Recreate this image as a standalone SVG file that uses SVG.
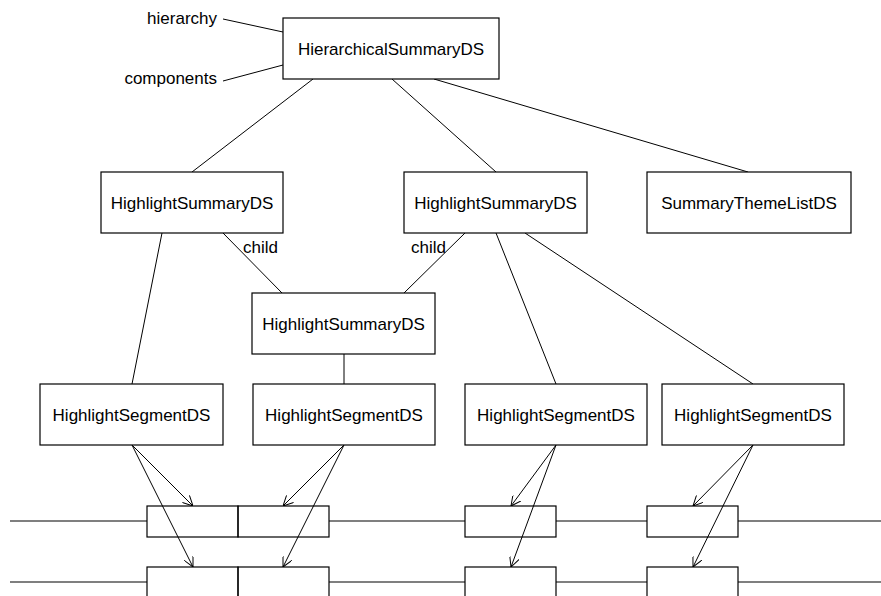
<svg xmlns="http://www.w3.org/2000/svg" width="881" height="596" viewBox="0 0 881 596">
  <style>
    .box { fill: #fff; stroke: #000; stroke-width: 1.2; }
    .slot { fill: none; stroke: #000; stroke-width: 1.2; }
    .lbl { font-family: "Liberation Sans", Arial, sans-serif; font-size: 17px; fill: #000; }
    .mid { text-anchor: middle; }
    .end { text-anchor: end; }
    .edge { stroke: #000; stroke-width: 1; fill: none; }
    .arr { stroke: #000; stroke-width: 1; fill: none; marker-end: url(#vee); }
    .track { stroke: #000; stroke-width: 1.2; fill: none; }
  </style>
  <defs>
    <marker id="vee" viewBox="0 0 10 10" refX="10" refY="5" markerWidth="10" markerHeight="10" markerUnits="userSpaceOnUse" orient="auto">
      <path d="M0,0 L10,5 L0,10" fill="none" stroke="#000" stroke-width="1"/>
    </marker>
  </defs>

  <!-- media timelines -->
  <g id="timeline-1">
    <line class="track" x1="10" y1="521" x2="147" y2="521"/>
    <line class="track" x1="329" y1="521" x2="465" y2="521"/>
    <line class="track" x1="556" y1="521" x2="647" y2="521"/>
    <line class="track" x1="738" y1="521" x2="881" y2="521"/>
    <rect class="slot" x="147" y="506" width="91" height="31"/>
    <rect class="slot" x="238" y="506" width="91" height="31"/>
    <rect class="slot" x="465" y="506" width="91" height="31"/>
    <rect class="slot" x="647" y="506" width="91" height="31"/>
  </g>
  <g id="timeline-2">
    <line class="track" x1="10" y1="582" x2="147" y2="582"/>
    <line class="track" x1="329" y1="582" x2="465" y2="582"/>
    <line class="track" x1="556" y1="582" x2="647" y2="582"/>
    <line class="track" x1="738" y1="582" x2="881" y2="582"/>
    <rect class="slot" x="147" y="567" width="91" height="40"/>
    <rect class="slot" x="238" y="567" width="91" height="40"/>
    <rect class="slot" x="465" y="567" width="91" height="40"/>
    <rect class="slot" x="647" y="567" width="91" height="40"/>
  </g>

  <!-- connectors -->
  <g id="connectors">
    <line class="edge" x1="223" y1="19" x2="283" y2="32"/>
    <line class="edge" x1="223" y1="81" x2="283" y2="65"/>
    <line class="edge" x1="313" y1="79" x2="192" y2="172"/>
    <line class="edge" x1="392" y1="79" x2="496" y2="172"/>
    <line class="edge" x1="434" y1="79" x2="748" y2="172"/>
    <line class="edge" x1="223" y1="233" x2="282" y2="293"/>
    <line class="edge" x1="465" y1="233" x2="404" y2="293"/>
    <line class="edge" x1="162" y1="233" x2="132" y2="384"/>
    <line class="edge" x1="344" y1="354" x2="344" y2="384"/>
    <line class="edge" x1="496" y1="233" x2="556" y2="384"/>
    <line class="edge" x1="525" y1="233" x2="753" y2="384"/>

    <line class="arr" x1="132" y1="445" x2="193" y2="506"/>
    <line class="arr" x1="132" y1="445" x2="193" y2="567"/>
    <line class="arr" x1="344" y1="445" x2="283" y2="506"/>
    <line class="arr" x1="344" y1="445" x2="283" y2="567"/>
    <line class="arr" x1="556" y1="445" x2="511" y2="506"/>
    <line class="arr" x1="556" y1="445" x2="511" y2="567"/>
    <line class="arr" x1="753" y1="445" x2="693" y2="506"/>
    <line class="arr" x1="753" y1="445" x2="693" y2="567"/>
  </g>

  <text class="lbl end" x="217" y="24">hierarchy</text>
  <text class="lbl end" x="217" y="84">components</text>
  <text class="lbl" x="243" y="253">child</text>
  <text class="lbl" x="411" y="253">child</text>

  <g id="hierarchical-summary">
    <rect class="box" x="283" y="18" width="216" height="61"/>
    <text class="lbl mid" x="391" y="55">HierarchicalSummaryDS</text>
  </g>
  <g id="highlight-summary-left">
    <rect class="box" x="101" y="172" width="182" height="61"/>
    <text class="lbl mid" x="192" y="209">HighlightSummaryDS</text>
  </g>
  <g id="highlight-summary-right">
    <rect class="box" x="404" y="172" width="183" height="61"/>
    <text class="lbl mid" x="495.5" y="209">HighlightSummaryDS</text>
  </g>
  <g id="summary-theme-list">
    <rect class="box" x="647" y="172" width="204" height="61"/>
    <text class="lbl mid" x="749" y="209">SummaryThemeListDS</text>
  </g>
  <g id="highlight-summary-child">
    <rect class="box" x="252" y="293" width="183" height="61"/>
    <text class="lbl mid" x="343.5" y="330">HighlightSummaryDS</text>
  </g>
  <g id="segment-1">
    <rect class="box" x="40" y="384" width="183" height="61"/>
    <text class="lbl mid" x="131.5" y="421">HighlightSegmentDS</text>
  </g>
  <g id="segment-2">
    <rect class="box" x="253" y="384" width="182" height="61"/>
    <text class="lbl mid" x="344" y="421">HighlightSegmentDS</text>
  </g>
  <g id="segment-3">
    <rect class="box" x="465" y="384" width="182" height="61"/>
    <text class="lbl mid" x="556" y="421">HighlightSegmentDS</text>
  </g>
  <g id="segment-4">
    <rect class="box" x="662" y="384" width="182" height="61"/>
    <text class="lbl mid" x="753" y="421">HighlightSegmentDS</text>
  </g>
</svg>
